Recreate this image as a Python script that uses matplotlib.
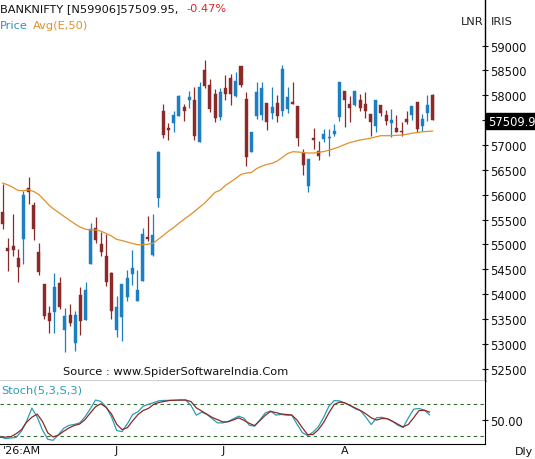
import matplotlib
matplotlib.use('Agg')
import matplotlib.pyplot as plt
import numpy as np

# ---------------- data ----------------
opens = [55660, 54923, 54977, 54722, 55111, 56136, 55801, 54856, 54206, 53623,
         53650, 54226, 53282, 53590, 53020, 53985, 53489, 54608, 55325, 55010,
         54762, 54420, 53281, 53536, 53938, 54407, 53871, 54273, 55144, 54796,
         55935, 57690, 57342, 57435, 57590, 57770, 57911, 57904, 57066, 58514,
         58212, 58025, 57557, 58140, 58341, 57979, 58582, 57925, 56865, 57589,
         57603, 57844, 57637, 57838, 57677, 57724, 57858, 57790, 56833, 56182,
         57141, 56886, 57121, 57134, 57221, 57557, 58079, 57824, 57804, 57905,
         57824, 57623, 57388, 57804, 57603, 57436, 57336, 57288, 57523, 57603,
         57858, 57388, 57637, 58005]
highs = [56216, 55124, 55613, 54910, 56082, 56350, 55848, 55030, 54206, 53757,
         54427, 54354, 53717, 53804, 53670, 54139, 54253, 55432, 55546, 55245,
         55211, 54440, 53971, 54206, 54487, 54889, 54487, 55332, 55566, 55613,
         56873, 57824, 57435, 57677, 58012, 57824, 58079, 58172, 58270, 58709,
         58327, 58126, 58140, 58407, 58427, 58473, 58594, 58071, 57255, 58260,
         58260, 57844, 58160, 58011, 58614, 58160, 58260, 57790, 56920, 56719,
         57342, 57074, 57322, 57322, 57422, 58260, 58079, 57979, 58079, 58025,
         58059, 57623, 57905, 57804, 57710, 57724, 57603, 57456, 57690, 57778,
         57858, 57623, 58011, 58025]
lows = [55312, 54474, 54762, 54253, 54608, 55814, 55097, 54387, 53503, 53221,
        53221, 53704, 52832, 53355, 52866, 53188, 53489, 54608, 55030, 54776,
        54173, 53502, 53147, 53054, 53871, 54193, 53871, 54273, 55077, 54776,
        55760, 57141, 57100, 57255, 57590, 57489, 57744, 57100, 57066, 58150,
        57657, 57468, 57509, 57911, 57810, 57959, 58160, 56572, 56850, 57523,
        57509, 57308, 57523, 57456, 57589, 57637, 57824, 56986, 56403, 56049,
        56920, 56699, 57054, 56785, 57187, 57489, 57356, 57469, 57778, 57690,
        57537, 57187, 57267, 57589, 57402, 57155, 57255, 57187, 57422, 57509,
        57267, 57288, 57489, 57509]
closes = [55412, 54876, 54896, 54555, 55995, 56062, 55312, 54441, 53570, 53469,
          54146, 53737, 53563, 53422, 53590, 53456, 54086, 55312, 55097, 54856,
          54253, 53657, 53750, 54206, 54327, 54528, 54085, 55211, 55110, 55191,
          56852, 57207, 57301, 57603, 57992, 57690, 57958, 57187, 58160, 58180,
          57724, 57543, 58059, 58025, 58025, 58292, 58206, 56753, 57255, 58059,
          58140, 57469, 57770, 57589, 58528, 57959, 57824, 57141, 56604, 56719,
          57100, 56785, 57221, 57167, 57288, 58260, 57911, 57737, 58079, 57744,
          57690, 57456, 57905, 57637, 57489, 57503, 57267, 57255, 57469, 57778,
          57322, 57523, 57804, 57510]
ema50 = [56236, 56198, 56146, 56086, 56081, 56098, 56065, 56001, 55895, 55784,
         55700, 55627, 55553, 55481, 55410, 55346, 55306, 55292, 55292, 55267,
         55221, 55171, 55103, 55080, 55052, 55022, 54996, 54996, 55006, 55024,
         55103, 55181, 55267, 55340, 55426, 55507, 55581, 55663, 55748, 55834,
         55941, 56049, 56092, 56190, 56258, 56329, 56409, 56435, 56447, 56526,
         56574, 56610, 56632, 56678, 56751, 56829, 56865, 56859, 56849, 56839,
         56839, 56853, 56869, 56896, 56928, 56964, 57010, 57048, 57076, 57101,
         57117, 57137, 57163, 57187, 57187, 57187, 57195, 57199, 57215, 57237,
         57251, 57265, 57273, 57281]
stoch_k = [18.7, 14.2, 15.5, 16.5, 28.1, 47.7, 72.9, 55.5, 30.6, 12.9,
           11.0, 21.6, 34.2, 39.7, 41.6, 44.3, 55.8, 71.3, 88.4, 85.8,
           75.1, 56.1, 29.7, 27.7, 42.6, 60.6, 65.8, 76.8, 80.2, 83.7,
           87.1, 87.7, 87.7, 88.0, 88.4, 88.4, 78.1, 59.3, 65.2, 60.8,
           52.5, 44.5, 44.5, 47.3, 52.3, 57.4, 53.5, 40.0, 38.1, 50.1,
           63.5, 67.5, 59.5, 60.7, 59.3, 59.3, 42.1, 25.8, 20.1, 26.6,
           36.6, 54.6, 76.2, 87.3, 86.8, 83.1, 77.7, 71.7, 67.6, 55.3,
           41.3, 54.4, 55.2, 52.5, 47.6, 40.1, 35.6, 54.1, 70.8, 72.2,
           69.0, 60.0]
stoch_d = [16.8, 17.1, 17.9, 23.5, 31.0, 45.8, 55.5, 61.3, 47.1, 25.2,
           17.4, 21.0, 28.4, 34.8, 39.5, 42.3, 50.6, 63.4, 75.5, 81.3,
           74.2, 61.7, 41.7, 31.6, 35.2, 48.4, 60.4, 68.4, 72.4, 80.3,
           83.9, 85.8, 87.7, 88.0, 88.4, 88.4, 85.5, 73.4, 67.4, 61.2,
           55.0, 50.7, 46.4, 46.6, 50.3, 54.2, 49.3, 43.6, 39.3, 48.9,
           58.9, 66.4, 64.4, 61.7, 60.6, 59.7, 49.9, 35.2, 21.9, 22.1,
           31.0, 45.0, 63.5, 79.7, 84.4, 82.9, 78.1, 73.1, 68.1, 61.8,
           54.2, 49.9, 52.9, 52.6, 47.6, 42.1, 36.6, 41.5, 54.4, 68.1,
           68.8, 65.3]
month_labels = ["'26:AM", "J", "J", "A"]
month_idx = [0, 22, 42.5, 66]
price_ticks = list(range(52500, 59001, 500))
last_price = "57509.9"

# ---------------- styling ----------------
RED = '#8c2a2a'
BLUE = '#1b7fc1'
ORANGE = '#e0902c'
TEAL = '#2b9db3'
GREEN = '#2f6f2f'
FONT = 'DejaVu Sans'
plt.rcParams['font.family'] = FONT

W, H = 535, 460
fig = plt.figure(figsize=(W / 100, H / 100), dpi=100)
fig.patch.set_facecolor('white')

axr = 485 / W
ax = fig.add_axes([0, (H - 382) / H, axr, 382 / H])
ax2 = fig.add_axes([0, (H - 445) / H, axr, 63 / H], sharex=ax)

n = len(closes)
x = np.arange(n)
for i in range(n):
    o, h, l, c = opens[i], highs[i], lows[i], closes[i]
    col = BLUE if c >= o else RED
    ax.vlines(i, l, h, color=col, lw=0.9, zorder=2)
    ax.bar(i, max(abs(c - o), 12), bottom=min(o, c), width=0.58,
           color=col, edgecolor=col, lw=0.3, zorder=3)

ax.plot(x, ema50, color=ORANGE, lw=0.9, zorder=4)

ax.set_xlim(-0.52, 93.1)
ax.set_ylim(52256, 59935)
for s in ['left', 'top']:
    ax.spines[s].set_visible(False)
ax.spines['right'].set_linewidth(1.0)
ax.spines['bottom'].set_linewidth(1.0)
ax.yaxis.tick_right()
ax.set_yticks(price_ticks)
# the 57500 label is hidden behind the last-price box in the original
ax.set_yticklabels(['' if t == 57500 else str(t) for t in price_ticks])
ax.tick_params(axis='y', direction='inout', length=5, width=0.8, pad=1,
               labelsize=8.3, colors='#111111')
ax.tick_params(axis='x', bottom=False, labelbottom=False)

# stochastic panel
xs = np.linspace(-0.5, 82.4, len(stoch_k))
ax2.plot(xs, stoch_k, color=TEAL, lw=0.9, zorder=3)
ax2.plot(xs, stoch_d, color=RED, lw=0.9, zorder=3)
ax2.axhline(80, color=GREEN, lw=0.8, ls=(0, (3, 3)), zorder=1)
ax2.axhline(20, color=GREEN, lw=0.8, ls=(0, (3, 3)), zorder=1)
ax2.set_ylim(3.9, 125)
for s in ['left', 'top']:
    ax2.spines[s].set_visible(False)
ax2.yaxis.tick_right()
ax2.set_yticks([50])
ax2.set_yticklabels(['50.00'])
ax2.tick_params(axis='y', direction='inout', length=5, width=0.8, pad=1,
                labelsize=8.3, colors='#111111')
ax2.set_xticks(month_idx)
ax2.set_xticklabels(month_labels)
ax2.tick_params(axis='x', length=0, pad=0.5, labelsize=8.0, colors='#111111')
labs = ax2.get_xticklabels()
labs[0].set_ha('left')

# texts
def fy(py):
    return 1 - py / H

def fx(px):
    return px / W

fig.text(fx(0), fy(9), "BANKNIFTY [N59906]57509.95,", fontsize=8.2,
         color='#111111', va='center', ha='left')
fig.text(fx(186), fy(9), "-0.47%", fontsize=8.2, color='#d42a2a',
         va='center', ha='left')
fig.text(fx(0), fy(26), "Price", fontsize=8.2, color='#2f8fc4',
         va='center', ha='left')
fig.text(fx(33), fy(26), "Avg(E,50)", fontsize=8.2, color=ORANGE,
         va='center', ha='left')
fig.text(fx(461), fy(22), "LNR", fontsize=8.2, color='#222222',
         va='center', ha='left')
fig.text(fx(491), fy(22), "IRIS", fontsize=8.2, color='#222222',
         va='center', ha='left')
fig.text(fx(63), fy(372), "Source : www.SpiderSoftwareIndia.Com",
         fontsize=8.2, color='#111111', va='center', ha='left')
fig.text(fx(1), fy(391), "Stoch(5,3,S,3)", fontsize=8.2, color=TEAL,
         va='center', ha='left')
fig.text(fx(515), fy(452), "Dly", fontsize=8.0, color='#111111',
         va='center', ha='left')
fig.text(fx(488), fy(122), last_price, fontsize=8.3, color='white',
         va='center', ha='left',
         bbox=dict(boxstyle='square,pad=0.15', fc='black', ec='black'))

fig.savefig('out.png', dpi=100, facecolor='white')
